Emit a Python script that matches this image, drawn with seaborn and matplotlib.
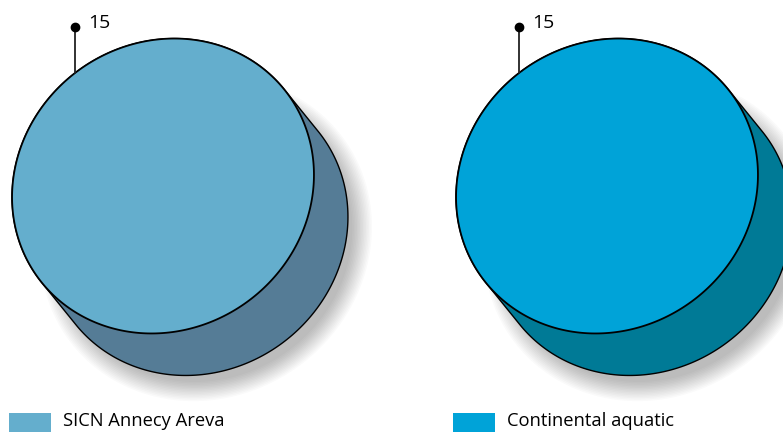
"""
Two single-slice 3D-style pie charts with legend below.
"""

import matplotlib
matplotlib.use("Agg")
import matplotlib.pyplot as plt
from matplotlib.patches import Polygon, Rectangle
import seaborn as sns
import numpy as np

# Data
categories = ["SICN Annecy Areva", "Continental aquatic"]
values = [15, 15]
value_labels = ["15", "15"]
top_colors = ["#64aecd", "#00a3d8"]
side_colors = ["#557c96", "#007a96"]

sns.set_theme(style="white")
plt.rcParams['font.family'] = ['Open Sans', 'DejaVu Sans']

W, H = 783, 432
fig = plt.figure(figsize=(W / 100, H / 100), dpi=100)
ax = fig.add_axes([0, 0, 1, 1])
ax.set_xlim(0, W)
ax.set_ylim(0, H)
ax.axis('off')

# ellipse geometry (pixels, y up)
A, B, TILT = 155, 143.2, np.deg2rad(36.4)
CENTERS = [(163, H - 186), (607, H - 186)]
DEPTH = (34, -42)


def ellipse_pts(cx, cy, frac=1.0, start=np.pi / 2, n=400, a=A, b=B):
    t = start + np.linspace(0, 2 * np.pi * frac, n)
    x, y = a * np.cos(t), b * np.sin(t)
    xr = x * np.cos(TILT) - y * np.sin(TILT)
    yr = x * np.sin(TILT) + y * np.cos(TILT)
    return np.column_stack([cx + xr, cy + yr])


def convex_hull(pts):
    pts = sorted(map(tuple, pts))

    def cross(o, a, b):
        return (a[0] - o[0]) * (b[1] - o[1]) - (a[1] - o[1]) * (b[0] - o[0])

    lower, upper = [], []
    for p in pts:
        while len(lower) >= 2 and cross(lower[-2], lower[-1], p) <= 0:
            lower.pop()
        lower.append(p)
    for p in reversed(pts):
        while len(upper) >= 2 and cross(upper[-2], upper[-1], p) <= 0:
            upper.pop()
        upper.append(p)
    return np.array(lower[:-1] + upper[:-1])


for i, (cx, cy) in enumerate(CENTERS):
    frac = values[i] / values[i]  # single slice -> whole pie
    front = ellipse_pts(cx, cy, frac)
    back = front + np.array(DEPTH)

    # soft drop shadow
    for k in range(14):
        s = 0.97 + 0.01 * k
        sh = ellipse_pts(cx + DEPTH[0] + 9, cy + DEPTH[1] - 11, a=A * s, b=B * s)
        ax.add_patch(Polygon(sh, closed=True, facecolor='#000000',
                             alpha=0.02, edgecolor='none', zorder=1))

    # side of the cylinder
    hull = convex_hull(np.vstack([front, back]))
    ax.add_patch(Polygon(hull, closed=True, facecolor=side_colors[i],
                         edgecolor='black', linewidth=1.0, zorder=2))

    # top face
    ax.add_patch(Polygon(front, closed=True, facecolor=top_colors[i],
                         edgecolor='black', linewidth=1.3, zorder=3))

    # value label with leader line
    phi = np.deg2rad(127.7)
    d = phi - TILT
    r = 1 / np.sqrt((np.cos(d) / A) ** 2 + (np.sin(d) / B) ** 2)
    px, py = cx + r * np.cos(phi), cy + r * np.sin(phi)
    ly = H - 27
    ax.plot([px, px], [py, ly], color='#222222', linewidth=1.3, zorder=4)
    ax.plot(px, ly, 'o', color='black', markersize=6, zorder=5)
    ax.text(px + 13, ly + 4, value_labels[i], fontsize=14,
            ha='left', va='center', color='black', zorder=5)

    # legend entry
    lx = 9 + 444 * i
    ax.add_patch(Rectangle((lx, -5), 42, H - 413 + 5, facecolor=top_colors[i],
                           edgecolor='none', zorder=5))
    ax.text(lx + 54, H - 426.5, categories[i], fontsize=13.2,
            ha='left', va='baseline', color='black', zorder=5)

fig.savefig('out.png', dpi=100)
